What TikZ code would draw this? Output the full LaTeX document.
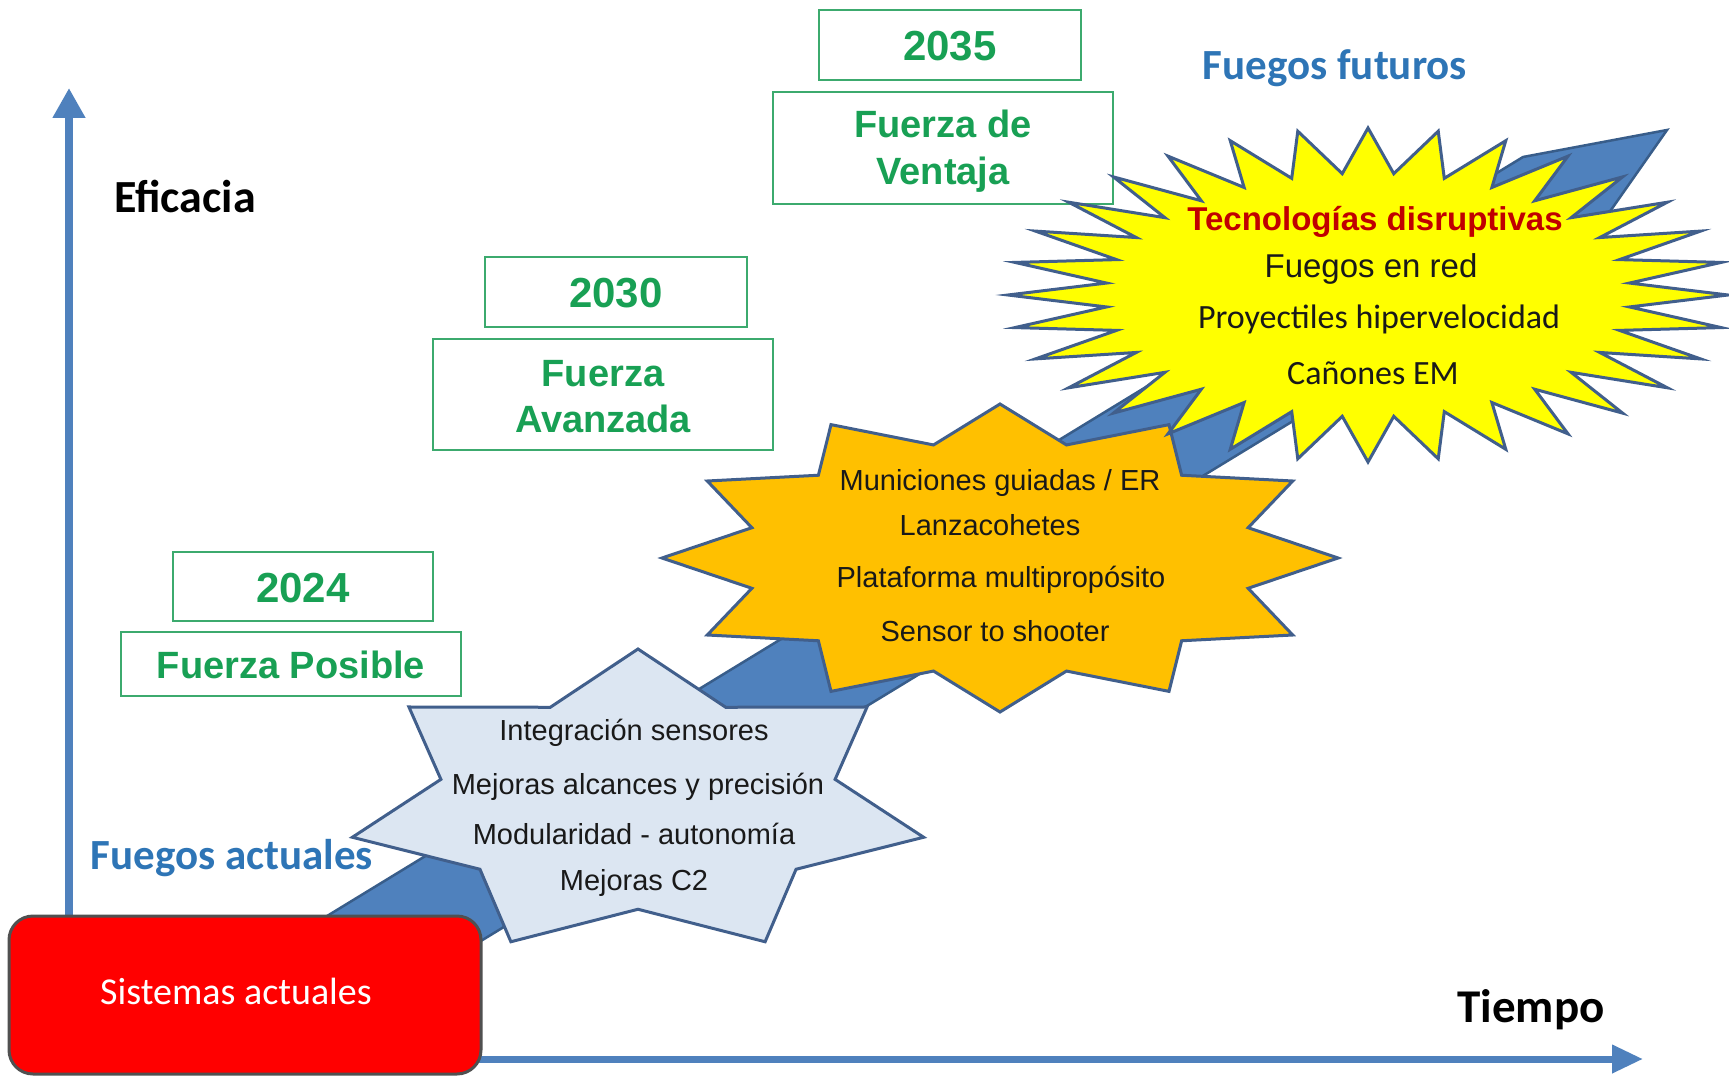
\documentclass[tikz,border=0pt]{standalone}
\usepackage{fontspec}
\setmainfont{Liberation Sans}
\newfontfamily\calib{Carlito}
\newfontfamily\arl{Liberation Sans}
\usetikzlibrary{arrows.meta}
\definecolor{axisblue}{RGB}{79,129,189}
\definecolor{boltblue}{RGB}{79,129,189}
\definecolor{boltedge}{RGB}{56,93,138}
\definecolor{staredge}{RGB}{65,95,140}
\definecolor{starlight}{RGB}{220,230,242}
\definecolor{starorange}{RGB}{255,192,0}
\definecolor{staryellow}{RGB}{255,255,0}
\definecolor{labgreen}{RGB}{24,160,84}
\definecolor{boxgreen}{RGB}{60,170,110}
\definecolor{labblue}{RGB}{46,117,182}
\definecolor{redfill}{RGB}{255,0,0}
\definecolor{rededge}{RGB}{80,80,80}
\definecolor{techred}{RGB}{192,0,0}
\definecolor{txtdark}{RGB}{25,25,25}
\newcommand{\setfs}[2]{\fontsize{#1}{#2}\selectfont}
% star: #1 style, #2 cx, #3 cy, #4 rx, #5 ry, #6 points, #7 inner ratio, #8 last index (2n-1)
\newcommand{\starshape}[8]{%
  \draw[#1] ({#2},{#3-#5})
    \foreach \k [evaluate=\k as \ang using {90+\k*180/#6},
                 evaluate=\k as \rr using {mod(\k,2)==0 ? 1 : #7}] in {1,...,#8}
      { -- ({#2+\rr*#4*cos(\ang)},{#3-\rr*#5*sin(\ang)}) } -- cycle;}
\begin{document}
\begin{tikzpicture}[x=1pt,y=-1pt,
  axisline/.style={draw=axisblue, line width=8pt},
  bolt/.style={fill=boltblue, draw=boltedge, line width=2.5pt, line join=miter},
  starA/.style={fill=starlight, draw=staredge, line width=3pt, line join=miter},
  starB/.style={fill=starorange, draw=staredge, line width=3pt, line join=miter},
  starC/.style={fill=staryellow, draw=staredge, line width=3pt, line join=miter},
  gbox/.style={draw=boxgreen, line width=2pt, fill=white, inner sep=0pt},
  lbl/.style={inner sep=0pt, anchor=base},
  gyear/.style={lbl, text=labgreen, font=\arl\bfseries\setfs{42}{48}},
  gname/.style={lbl, text=labgreen, font=\arl\bfseries\setfs{38}{44}},
  axlab/.style={lbl, text=black, font=\calib\bfseries\setfs{46}{52}},
  fuego/.style={lbl, text=labblue, font=\calib\bfseries\setfs{43}{50}},
  item/.style={lbl, text=txtdark, font=\arl\setfs{29}{34}},
]
\useasboundingbox (0,0) rectangle (1729,1078);
\fill[white] (0,0) rectangle (1729,1078);

% axes
\coordinate (vbot) at (69,925);
\coordinate (vtop) at (69,88);
\coordinate (hleft) at (460,1059);
\coordinate (hright) at (1643,1059);
\draw[axisline, -{Triangle[width=31pt,length=30pt]}] (vbot) -- (vtop);
\draw[axisline, line width=7pt, -{Triangle[width=27pt,length=31pt]}] (hleft) -- (hright);

% lightning arrow
\draw[bolt] (250,963) -- (950,536) -- (900,537) -- (1523,157) -- (1667,130)
  -- (1590,240) -- (1060,563) -- (1000,625) -- (420,978) -- cycle;

% red box
\node[draw=rededge, line width=3pt, fill=redfill, rounded corners=24pt,
      minimum width=472pt, minimum height=158pt, inner sep=0pt] (sis) at (245,995) {};
\node[lbl, text=white, font=\calib\setfs{38}{44}] (sistxt) at (236,1004) {Sistemas actuales};

% stars
\starshape{starA}{638}{803}{293}{154}{7}{0.69}{13}
\starshape{starB}{1000}{558}{338}{154}{12}{0.76}{23}

% green boxes
\node[gbox, minimum width=262pt, minimum height=70pt] (b2035) at (950,45) {};
\node[gbox, minimum width=340pt, minimum height=112pt] (bvent) at (943,148) {};
\node[gbox, minimum width=262pt, minimum height=70pt] (b2030) at (616,292) {};
\node[gbox, minimum width=340pt, minimum height=111pt] (bavan) at (603,394) {};
\node[gbox, minimum width=260pt, minimum height=69pt] (b2024) at (303,586) {};
\node[gbox, minimum width=340pt, minimum height=64pt] (bposi) at (291,664) {};

\starshape{starC}{1368}{295}{360}{167}{32}{0.73}{63}

% green labels
\node[gyear] (t2035) at (950,61) {2035};
\node[gname] (tv1) at (943,138) {Fuerza de};
\node[gname] (tv2) at (943,185) {Ventaja};
\node[gyear] (t2030) at (616,307) {2030};
\node[gname] (ta1) at (603,386) {Fuerza};
\node[gname] (ta2) at (603,432) {Avanzada};
\node[gyear] (t2024) at (303,602) {2024};
\node[gname] (tpos) at (291,678) {Fuerza Posible};

% axis labels
\node[axlab] (efic) at (185,213) {Eficacia};
\node[axlab, font=\calib\bfseries\setfs{47}{52}] (tiempo) at (1531,1022) {Tiempo};
\node[fuego] (fact) at (232,869) {Fuegos actuales};
\node[fuego] (ffut) at (1335,80) {Fuegos futuros};

% star 1 items
\node[item] (i1) at (634,740) {Integración sensores};
\node[item] (i2) at (638,794) {Mejoras alcances y precisión};
\node[item] (i3) at (634,844) {Modularidad - autonomía};
\node[item] (i4) at (634,890) {Mejoras C2};

% star 2 items
\node[item] (o1) at (1000,490) {Municiones guiadas / ER};
\node[item] (o2) at (990,535) {Lanzacohetes};
\node[item] (o3) at (1001,587) {Plataforma multipropósito};
\node[item] (o4) at (995,641) {Sensor to shooter};

% star 3 items
\node[lbl, text=techred, font=\arl\bfseries\setfs{33}{38}] (y1) at (1375,230) {Tecnologías disruptivas};
\node[lbl, text=txtdark, font=\arl\setfs{33}{38}] (y2) at (1371,277) {Fuegos en red};
\node[lbl, text=txtdark, font=\calib\setfs{34}{40}] (y3) at (1379,328) {Proyectiles hipervelocidad};
\node[lbl, text=txtdark, font=\calib\setfs{34}{40}] (y4) at (1373,384) {Cañones EM};
\end{tikzpicture}
\end{document}
